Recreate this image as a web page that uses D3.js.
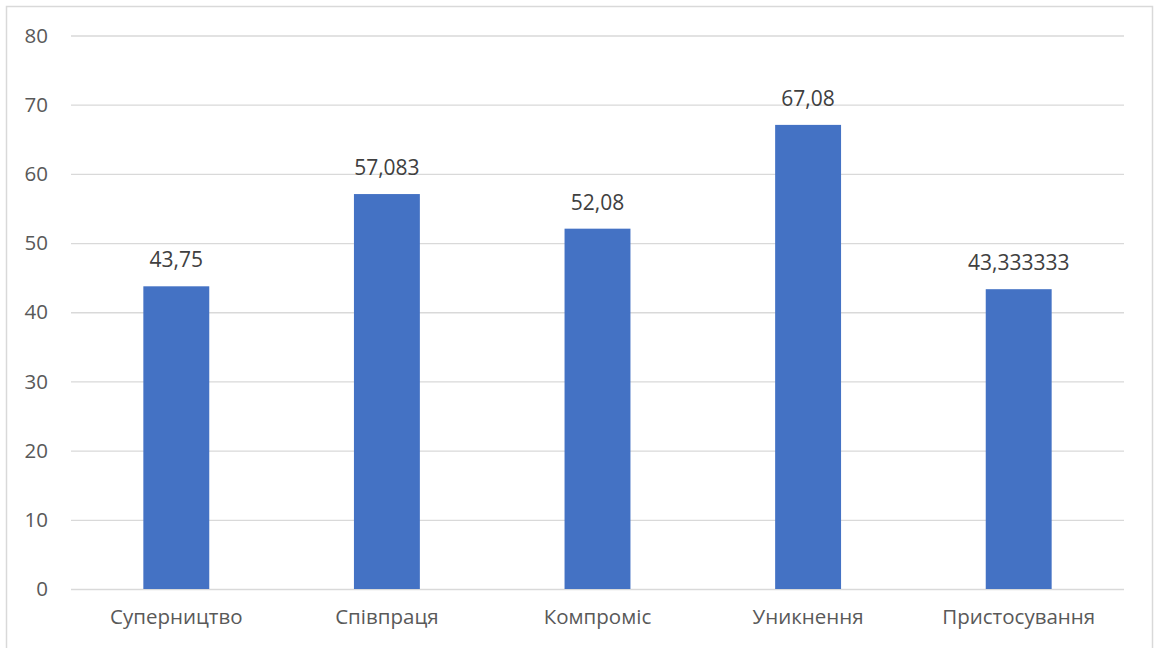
<!DOCTYPE html>
<html>
<head>
<meta charset="utf-8">
<script src="https://cdn.jsdelivr.net/npm/d3@7"></script>
<style>
  html, body { margin: 0; padding: 0; background: #fff; }
  svg { display: block; }
  text { font-family: "Open Sans", "Liberation Sans", sans-serif; }
</style>
</head>
<body>
<svg id="chart" width="1161" height="648"></svg>
<script>
const categories = ["Суперництво", "Співпраця", "Компроміс", "Уникнення", "Пристосування"];
const values = [43.75, 57.083, 52.08, 67.08, 43.333333];
const valueLabels = ["43,75", "57,083", "52,08", "67,08", "43,333333"];
const yTicks = [0, 10, 20, 30, 40, 50, 60, 70, 80];

const svg = d3.select("#chart");
const plot = { left: 71, right: 1124, top: 35.5, bottom: 589 };

// Chart frame
svg.append("rect")
  .attr("x", 6.5).attr("y", 6.5)
  .attr("width", 1146).attr("height", 660)
  .attr("fill", "#fff").attr("stroke", "#d9d9d9").attr("stroke-width", 1.5);

const x = d3.scaleBand()
  .domain(categories)
  .range([plot.left, plot.right])
  .paddingInner(0.687)
  .paddingOuter(0.3435);

const y = d3.scaleLinear().domain([0, 80]).range([plot.bottom, plot.top]);

// Horizontal gridlines with value ticks
const yAxis = d3.axisLeft(y).tickValues(yTicks).tickSize(-(plot.right - plot.left)).tickPadding(23);
const gy = svg.append("g").attr("transform", `translate(${plot.left},0)`).call(yAxis);
gy.select(".domain").remove();
gy.selectAll(".tick line").attr("stroke", "#d9d9d9").attr("stroke-width", 1.3);
gy.selectAll(".tick text").attr("fill", "#595959").attr("font-size", 20.5);

// Bars
svg.append("g").selectAll("rect")
  .data(values)
  .join("rect")
  .attr("x", (d, i) => x(categories[i]))
  .attr("y", d => y(d))
  .attr("width", x.bandwidth())
  .attr("height", d => y(0) - y(d))
  .attr("fill", "#4472c4");

// Value labels above bars
svg.append("g").selectAll("text")
  .data(values)
  .join("text")
  .attr("x", (d, i) => x(categories[i]) + x.bandwidth() / 2)
  .attr("y", d => y(d) - 19)
  .attr("text-anchor", "middle")
  .attr("fill", "#404040")
  .attr("font-size", 21)
  .text((d, i) => valueLabels[i]);

// Category axis
const xAxis = d3.axisBottom(x).tickSize(0).tickPadding(20);
const gx = svg.append("g").attr("transform", `translate(0,${plot.bottom})`).call(xAxis);
gx.select(".domain").remove();
gx.selectAll(".tick text").attr("fill", "#595959").attr("font-size", 20.5);
</script>
</body>
</html>
